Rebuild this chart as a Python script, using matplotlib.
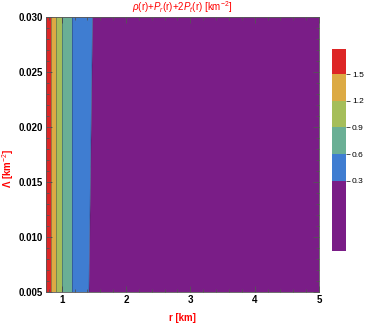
import numpy as np
import matplotlib
matplotlib.use("Agg")
import matplotlib.pyplot as plt
from matplotlib.colors import ListedColormap, BoundaryNorm
from matplotlib.ticker import MultipleLocator

plt.rcParams['font.family'] = ['Liberation Sans', 'DejaVu Sans']
plt.rcParams['mathtext.fontset'] = 'custom'
plt.rcParams['mathtext.rm'] = 'Liberation Sans'
plt.rcParams['mathtext.it'] = 'Liberation Sans:italic'
plt.rcParams['mathtext.bf'] = 'Liberation Sans:bold'

# Data: contour-boundary positions
lambda_rows = [0.005, 0.030]
r_at_low_lambda = [0.756, 0.834, 0.907, 1.009, 1.155, 1.424, 5.0]
r_at_high_lambda = [0.756, 0.834, 0.907, 1.009, 1.155, 1.481, 5.0]
field_values = [1.70, 1.5, 1.2, 0.9, 0.6, 0.3, 0.0]
levels = [-0.49, 0.3, 0.6, 0.9, 1.2, 1.5, 1.78]
cbar_ticks = [0.3, 0.6, 0.9, 1.2, 1.5]
colors = ['#7A1D87', '#3F7DD1', '#6AAF95', '#A5BE5A', '#DCAA44', '#DD2626']

X = np.array([r_at_low_lambda, r_at_high_lambda])
Y = np.array([[lambda_rows[0]] * len(r_at_low_lambda),
              [lambda_rows[1]] * len(r_at_high_lambda)])
Z = np.array([field_values, field_values])
eps = 1e-6
draw_levels = [levels[0]] + [l - eps for l in levels[1:-1]] + [levels[-1]]

fig = plt.figure(figsize=(3.66, 3.23), dpi=100)
ax = fig.add_axes([0.1257, 0.096, 0.7459, 0.851])

cmap = ListedColormap(colors)
norm = BoundaryNorm(draw_levels, cmap.N)
cs = ax.contourf(X, Y, Z, levels=draw_levels, cmap=cmap, norm=norm, antialiased=True)
ax.contour(X, Y, Z, levels=draw_levels[1:-1], colors='#222244', linewidths=0.5, alpha=0.5)

ax.set_xlim(0.756, 5.0)
ax.set_ylim(0.005, 0.030)
ax.set_xticks([1, 2, 3, 4, 5])
ax.set_yticks([0.005, 0.010, 0.015, 0.020, 0.025, 0.030])
ax.set_yticklabels(['0.005', '0.010', '0.015', '0.020', '0.025', '0.030'])
ax.xaxis.set_minor_locator(MultipleLocator(0.2))
ax.yaxis.set_minor_locator(MultipleLocator(0.001))
ax.tick_params(which='both', direction='in', top=True, right=True, color='#555555', width=0.6)
ax.tick_params(which='major', length=4, labelsize=7, pad=2)
ax.tick_params(which='minor', length=2)
for lab in ax.get_xticklabels() + ax.get_yticklabels():
    lab.set_fontweight('bold')
for s in ax.spines.values():
    s.set_color('#555555')
    s.set_linewidth(0.6)

fig.text(0.4986, 0.978, r'$\rho$(r)+$P_r$(r)+2$P_t$(r) [km$^{-2}$]', color='red',
         fontsize=7, ha='center', va='center')
fig.text(0.022, 0.48, 'Λ [km$^{-2}$]', color='red', fontsize=7,
         rotation=90, ha='center', va='center', fontweight='bold')
fig.text(0.4986, 0.015, 'r [km]', color='red', fontsize=7, ha='center', va='center',
         fontweight='bold')

cax = fig.add_axes([0.9063, 0.2238, 0.0399, 0.6235])
cb = fig.colorbar(cs, cax=cax, spacing='proportional')
cb.set_ticks(cbar_ticks)
cb.minorticks_off()
cb.outline.set_visible(False)
cb.ax.tick_params(labelsize=6, length=3, width=0.6, color='#333333', pad=1)
cb.ax.set_yticklabels(['0.3', '0.6', '0.9', '1.2', '1.5'])

fig.savefig('out.png', dpi=100)
